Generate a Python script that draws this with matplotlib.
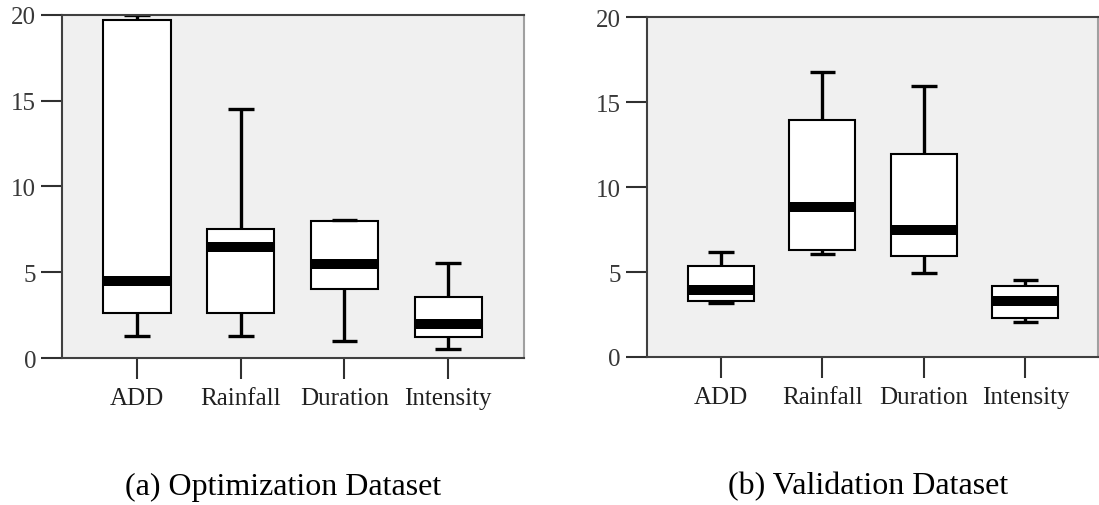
import matplotlib
matplotlib.use("Agg")
import matplotlib.pyplot as plt

# Variables shown on the x axis
categories = ["ADD", "Rainfall", "Duration", "Intensity"]

# Five-number summaries (lower whisker, Q1, median, Q3, upper whisker)
opt_low = [1.3, 1.3, 1.0, 0.5]
opt_q1 = [2.6, 2.65, 4.0, 1.25]
opt_med = [4.5, 6.45, 5.5, 2.0]
opt_q3 = [19.7, 7.5, 8.0, 3.55]
opt_high = [20.0, 14.5, 8.05, 5.55]

val_low = [3.2, 6.05, 4.95, 2.04]
val_q1 = [3.27, 6.32, 5.95, 2.3]
val_med = [3.95, 8.83, 7.48, 3.31]
val_q3 = [5.38, 13.95, 11.95, 4.2]
val_high = [6.16, 16.76, 15.96, 4.55]

y_ticks = [0, 5, 10, 15, 20]
captions = ["(a) Optimization Dataset", "(b) Validation Dataset"]

plt.rcParams["font.family"] = ["Liberation Serif", "DejaVu Serif"]

W, H = 1099, 506
fig = plt.figure(figsize=(W / 100, H / 100), dpi=100)


def px_axes(x0, x1, y0, y1):
    """Axes from pixel edges (top-left origin)."""
    return fig.add_axes([x0 / W, 1 - y1 / H, (x1 - x0) / W, (y1 - y0) / H])


def draw_panel(ax, low, q1, med, q3, high, xlim):
    stats = [
        {"whislo": a, "q1": b, "med": c, "q3": d, "whishi": e, "label": lab}
        for a, b, c, d, e, lab in zip(low, q1, med, q3, high, categories)
    ]
    ax.bxp(
        stats,
        positions=range(1, len(categories) + 1),
        widths=0.65,
        capwidths=0.25,
        showfliers=False,
        patch_artist=True,
        boxprops=dict(facecolor="white", edgecolor="black", linewidth=1.5),
        medianprops=dict(color="black", linewidth=7.2, solid_capstyle="butt"),
        whiskerprops=dict(color="black", linewidth=2.4, solid_capstyle="butt"),
        capprops=dict(color="black", linewidth=2.4, solid_capstyle="butt"),
    )
    ax.set_facecolor("#f0f0f0")
    ax.set_xlim(*xlim)
    ax.set_ylim(0, 20)
    ax.set_yticks(y_ticks)
    ax.set_yticklabels([str(t) for t in y_ticks])
    for side in ["left", "bottom", "top", "right"]:
        ax.spines[side].set_linewidth(1.5)
        ax.spines[side].set_color("#404040")
    ax.spines["right"].set_color("#a0a0a0")
    ax.tick_params(axis="y", length=15, width=1.5, color="#303030",
                   labelsize=18, labelcolor="#383838", pad=4)
    ax.tick_params(axis="x", length=15, width=1.5, color="#303030",
                   labelsize=18, labelcolor="#202020", pad=6)


ax1 = px_axes(62.4, 523.7, 16, 359)
draw_panel(ax1, opt_low, opt_q1, opt_med, opt_q3, opt_high, (0.283, 4.726))

ax2 = px_axes(647.3, 1097.5, 18.3, 358)
draw_panel(ax2, val_low, val_q1, val_med, val_q3, val_high, (0.275, 4.71))

fig.text(283 / W, 1 - 487 / H, captions[0], ha="center", va="center",
         fontsize=23, color="black")
fig.text(868 / W, 1 - 487 / H, captions[1], ha="center", va="center",
         fontsize=23, color="black")

fig.savefig("out.png", dpi=100)
